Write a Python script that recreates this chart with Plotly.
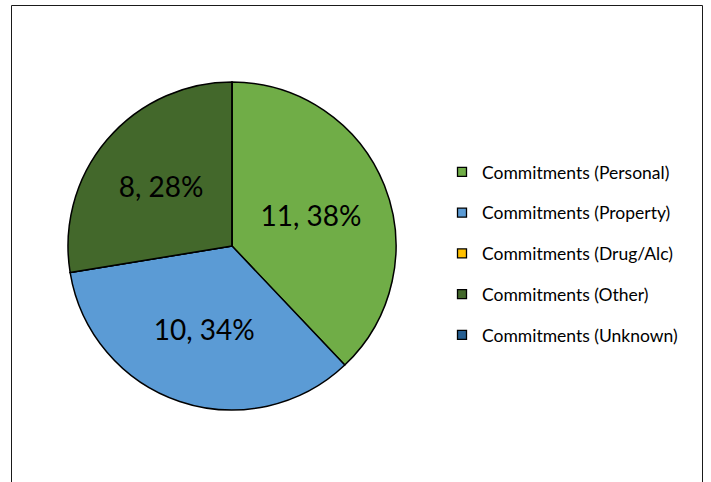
import plotly.graph_objects as go

categories = ["Commitments (Personal)", "Commitments (Property)", "Commitments (Drug/Alc)",
              "Commitments (Other)", "Commitments (Unknown)"]
values = [11, 10, 0, 8, 0]
colors = ["#70AD47", "#5B9BD5", "#FFC000", "#43682B", "#255E91"]

W, H = 711, 482


def fx(px):
    return px / W


def fy(py):
    return 1 - py / H


fig = go.Figure()
fig.add_trace(go.Pie(
    labels=categories, values=values, sort=False, direction="clockwise", rotation=0,
    marker=dict(colors=colors, line=dict(color="#000000", width=1.5)),
    texttemplate="%{value}, %{percent:.0%}", textposition="inside",
    insidetextorientation="horizontal",
    textfont=dict(family="Lato", size=28, color="#000000"),
    showlegend=False, hoverinfo="label+value+percent",
    domain=dict(x=[fx(68), fx(396)], y=[fy(410), fy(82)]),
))

for i, (name, col) in enumerate(zip(categories, colors)):
    fig.add_trace(go.Scatter(
        x=[None], y=[None], mode="markers", name=name, legendgroup=f"g{i}",
        marker=dict(symbol="square", size=9, color=col, line=dict(color="#000000", width=1.3)),
        showlegend=True,
    ))

fig.update_layout(
    width=W, height=H, margin=dict(l=0, r=0, t=0, b=0),
    paper_bgcolor="white", plot_bgcolor="white",
    xaxis=dict(visible=False), yaxis=dict(visible=False),
    legend=dict(x=fx(442), y=fy(154), xanchor="left", yanchor="top",
                font=dict(family="Lato", size=17.5, color="#000000"),
                tracegroupgap=15, bgcolor="rgba(0,0,0,0)", itemsizing="trace"),
    shapes=[dict(type="rect", xref="paper", yref="paper",
                 x0=fx(11.5), x1=fx(702.5), y0=-0.1, y1=fy(5.5),
                 line=dict(color="#1a1a1a", width=1), fillcolor="rgba(0,0,0,0)", layer="above")],
)

fig.write_html("out.html", config={"displayModeBar": False},
               post_script="document.body.style.margin='0';")
